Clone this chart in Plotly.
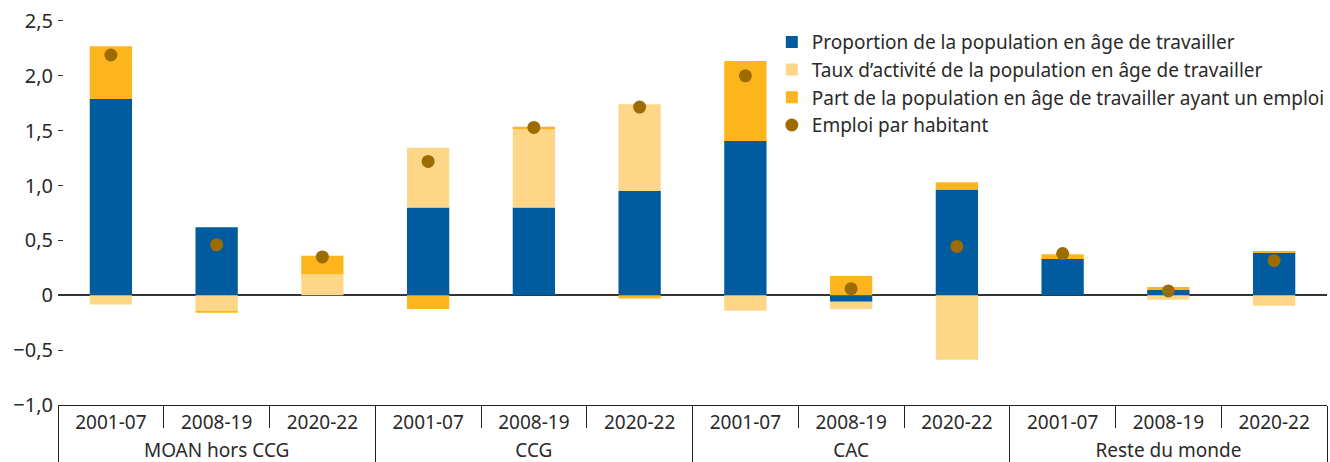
import plotly.graph_objects as go

groups = ["MOAN hors CCG"] * 3 + ["CCG"] * 3 + ["CAC"] * 3 + ["Reste du monde"] * 3
periods = ["2001-07", "2008-19", "2020-22"] * 4

# Proportion de la population en âge de travailler
proportion = [1.79, 0.62, 0.0, 0.80, 0.80, 0.95, 1.405, -0.06, 0.965, 0.33, 0.048, 0.394]
# Taux d'activité de la population en âge de travailler
taux = [-0.085, -0.14, 0.19, 0.545, 0.71, 0.79, -0.14, -0.065, -0.587, 0.0, -0.04, -0.095]
# Part de la population en âge de travailler ayant un emploi
part = [0.48, -0.02, 0.17, -0.125, 0.025, -0.03, 0.73, 0.175, 0.065, 0.045, 0.027, 0.006]
# Emploi par habitant
emploi = [2.19, 0.46, 0.35, 1.22, 1.53, 1.715, 2.00, 0.06, 0.445, 0.38, 0.04, 0.315]

yticks = [-1.0, -0.5, 0, 0.5, 1.0, 1.5, 2.0, 2.5]
ytext = ["\u22121,0", "\u22120,5", "0", "0,5", "1,0", "1,5", "2,0", "2,5"]

x = [groups, periods]
FONT = "Noto Sans"
TXT = "#2a2a2a"

fig = go.Figure()
fig.add_trace(go.Bar(x=x, y=proportion, name="Proportion de la population en âge de travailler",
                     marker=dict(color="#005c9e", line=dict(width=0))))
fig.add_trace(go.Bar(x=x, y=taux, name="Taux d\u2019activité de la population en âge de travailler",
                     marker=dict(color="#fdd787", line=dict(width=0))))
fig.add_trace(go.Bar(x=x, y=part, name="Part de la population en âge de travailler ayant un emploi",
                     marker=dict(color="#fdb51e", line=dict(width=0))))
fig.add_trace(go.Scatter(x=x, y=emploi, mode="markers", name="Emploi par habitant",
                         marker=dict(color="#9d6c00", size=13, line=dict(width=0))))

fig.update_layout(
    width=1330, height=462,
    margin=dict(l=58, r=0, t=10, b=57),
    barmode="relative",
    bargap=0.6,
    plot_bgcolor="white", paper_bgcolor="white",
    font=dict(family=FONT, size=19, color=TXT),
    separators=", ",
    legend=dict(x=0.5625, y=0.967, xanchor="left", yanchor="top",
                font=dict(family=FONT, size=19, color=TXT),
                bgcolor="rgba(0,0,0,0)", tracegroupgap=0,
                traceorder="normal"),
    showlegend=True,
)
fig.update_yaxes(range=[-1.0, 2.6], tickvals=yticks, ticktext=ytext, showgrid=False,
                 zeroline=True, zerolinecolor="#333333", zerolinewidth=1.5,
                 ticks="inside", ticklen=5, tickcolor="#333333", showline=False,
                 ticklabelstandoff=4,
                 tickfont=dict(size=20, color=TXT), automargin=False)
fig.update_xaxes(type="multicategory", range=[-0.5, 11.5],
                 showline=True, linecolor="#222222", linewidth=1,
                 ticks="outside", tickson="boundaries", ticklen=22, tickcolor="#222222",
                 showdividers=True, dividercolor="#222222", dividerwidth=1,
                 tickfont=dict(size=19, color=TXT), showgrid=False, automargin=False)

fig.write_html("out.html", config={"displayModeBar": False},
               post_script="document.body.style.margin='0';")
